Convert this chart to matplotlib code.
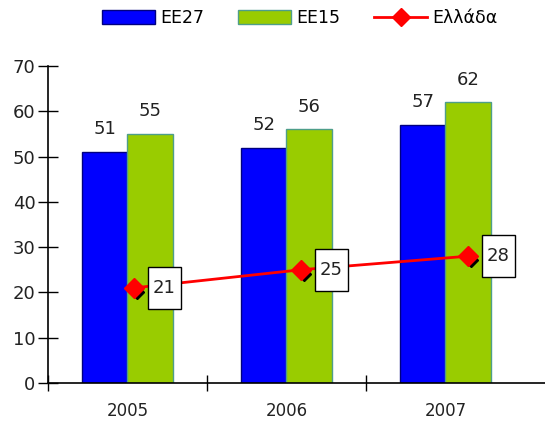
import matplotlib.pyplot as plt
from matplotlib.patches import Rectangle, Patch
from matplotlib.lines import Line2D
from matplotlib import transforms
import numpy as np

years = ['2005', '2006', '2007']
ee27 = [51, 52, 57]
ee15 = [55, 56, 62]
greece = [21, 25, 28]

blue = '#0000FF'
green = '#99CC00'
red = '#FF0000'

fig = plt.figure(figsize=(5.45, 4.28), dpi=100)
ax = fig.add_axes([48 / 545, 45 / 428, 497 / 545, 317 / 428])

x = np.arange(len(years))
w = 0.285
ax.bar(x - w / 2, ee27, w, color=blue, edgecolor='#000080', linewidth=1, zorder=2)
ax.bar(x + w / 2, ee15, w, color=green, edgecolor='#4E9E8A', linewidth=1, zorder=2)

for i in range(len(years)):
    ax.text(x[i] - w / 2, ee27[i] + 3, str(ee27[i]), ha='center', va='bottom', fontsize=13, color='#222222')
    ax.text(x[i] + w / 2, ee15[i] + 3, str(ee15[i]), ha='center', va='bottom', fontsize=13, color='#222222')

# line sits on slightly stretched positions, like the original
xl = x * 1.05 + 0.04
ax.plot(xl, greece, color=red, linewidth=2, zorder=3)
shadow = transforms.offset_copy(ax.transData, fig=fig, x=3, y=-4, units='dots')
ax.plot(xl, greece, linestyle='none', marker='D', markersize=7, color='black', transform=shadow, zorder=3)
ax.plot(xl, greece, linestyle='none', marker='D', markersize=10, color=red, zorder=4)

for i in range(len(years)):
    tr = transforms.Affine2D().translate(14, -21) + transforms.ScaledTranslation(xl[i], greece[i], ax.transData)
    ax.add_patch(Rectangle((0, 0), 33, 42, transform=tr, facecolor='white', edgecolor='black',
                           linewidth=1, zorder=5, clip_on=False))
    ax.annotate(str(greece[i]), (xl[i], greece[i]), xytext=(22, 0), textcoords='offset points',
                ha='center', va='center', fontsize=13, color='#222222', zorder=6)

ax.set_xlim(-0.5, 2.626)
ax.set_ylim(0, 70)
ax.set_yticks(range(0, 71, 10))
ax.set_xticks(x)
ax.set_xticklabels(years, fontsize=12)
ax.set_xticks([-0.5, 0.5, 1.5], minor=True)
ax.tick_params(axis='x', which='major', length=0, pad=14, colors='#222222')
ax.tick_params(axis='x', which='minor', direction='inout', length=12, width=1)
ax.tick_params(axis='y', direction='inout', length=14, width=1, labelsize=13, labelcolor='#222222', pad=2)
ax.spines['top'].set_visible(False)
ax.spines['right'].set_visible(False)
ax.spines['left'].set_linewidth(1.2)
ax.spines['bottom'].set_linewidth(1.2)

handles = [Patch(facecolor=blue, edgecolor='#000080'),
           Patch(facecolor=green, edgecolor='#4E9E8A'),
           Line2D([], [], color=red, linewidth=2, marker='D', markersize=9)]
fig.legend(handles, ['EE27', 'EE15', 'Ελλάδα'], loc='upper center', bbox_to_anchor=(0.55, 1.015),
           ncol=3, frameon=False, fontsize=12.5, handlelength=3.0, handleheight=0.9,
           columnspacing=2.0, handletextpad=0.3)

fig.savefig('out.png', dpi=100)
